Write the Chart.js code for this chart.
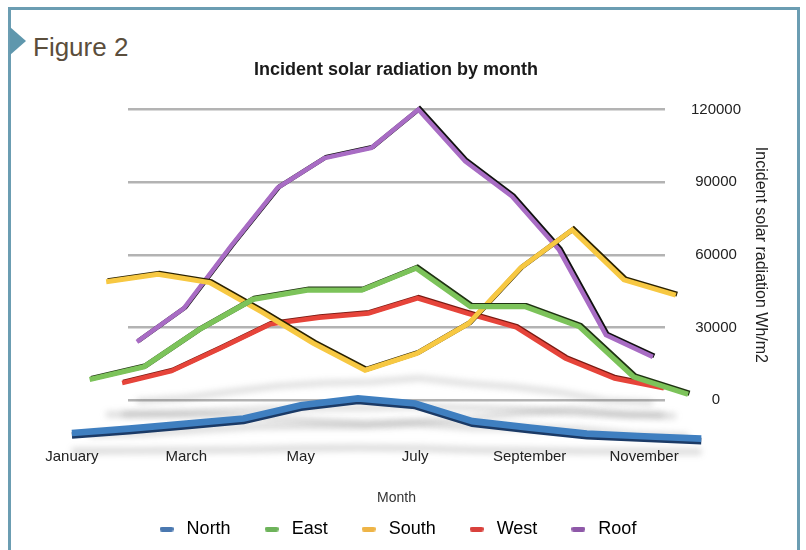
<!DOCTYPE html>
<html>
<head>
<meta charset="utf-8">
<script src="https://cdn.jsdelivr.net/npm/chart.js@4.4.1/dist/chart.umd.min.js"></script>
<style>
  html, body { margin: 0; padding: 0; background: #fff; overflow: hidden; }
  #wrap { position: relative; width: 806px; height: 550px; overflow: hidden; }
  #frame { position: absolute; left: 8px; top: 7px; width: 786px; height: 600px;
           border: 3px solid #6b9db2; border-bottom: none; }
  #marker { position: absolute; left: 10px; top: 27px; width: 0; height: 0;
            border-top: 14px solid transparent; border-bottom: 14px solid transparent;
            border-left: 16px solid #5f97ad; }
  #fig { position: absolute; left: 33px; top: 34px; line-height: 26px;
         font: 26px "Liberation Sans", Arial, sans-serif; color: #5b4e3c; white-space: nowrap; }
  #fig { line-height: 26px; }
  canvas { position: absolute; left: 0; top: 0; }
</style>
</head>
<body>
<div id="wrap">
  <div id="frame"></div>
  <div id="marker"></div>
  <div id="fig">Figure 2</div>
  <canvas id="chart" width="806" height="550"></canvas>
</div>
<script>
// Monthly incident solar radiation (Wh/m2) per surface orientation
const months = ['January', 'February', 'March', 'April', 'May', 'June',
                'July', 'August', 'September', 'October', 'November', 'December'];
const north = [4200, 5700, 7400, 9100, 13600, 15900, 14200, 8200, 6000, 4000, 3100, 2300];
const east  = [19100, 23600, 36700, 47600, 50900, 50900, 58700, 45000, 45000, 37900, 20000, 13800];
const south = [52300, 55100, 52000, 41000, 29300, 19200, 25500, 36700, 57400, 71700, 53000, 47300];
const west  = [10800, 15500, 24500, 33900, 36500, 38200, 44100, 38200, 32700, 20500, 12600, 8800];
const roof  = [24100, 37900, 63500, 87700, 100000, 104200, 120000, 98600, 84100, 62100, 26900, 17900];
const yTicks = [0, 30000, 60000, 90000, 120000];

// Perspective: each series sits on its own depth plane, scaled about a vanishing point
const VANISH = { x: 0.567, y: 0.293 };   // fraction of the plot area
const FRONT_DEPTH = 1.22;

const FONT = '"Liberation Sans", Arial, Helvetica, sans-serif';
Chart.defaults.font.family = FONT;
Chart.defaults.color = '#222';

const toPoints = arr => arr.map((v, i) => ({ x: i, y: v }));

function plane(chart, s) {
  const a = chart.chartArea;
  const vx = a.left + VANISH.x * (a.right - a.left);
  const vy = a.top + VANISH.y * (a.bottom - a.top);
  return { s, vx, vy, px: x => vx + s * (x - vx), py: y => vy + s * (y - vy) };
}

function swatch(color) {
  const c = document.createElement('canvas');
  c.width = 14; c.height = 5;
  const g = c.getContext('2d');
  g.fillStyle = color;
  g.beginPath();
  g.roundRect(0, 0, 14, 5, 2.5);
  g.fill();
  return c;
}

const depthPlugin = {
  id: 'depthPlanes',
  beforeDatasetsDraw(chart) {
    // soft floor shadows under each ribbon
    const ctx = chart.ctx;
    const y0 = chart.scales.y.getPixelForValue(0);
    ctx.save();
    ctx.filter = 'blur(3px)';
    ctx.strokeStyle = 'rgba(90,90,90,0.24)';
    ctx.lineJoin = 'round';
    chart.data.datasets.forEach((ds, i) => {
      const meta = chart.getDatasetMeta(i);
      const t = plane(chart, ds.depth);
      const base = t.py(y0);
      ctx.lineWidth = 5 * ds.depth;
      ctx.beginPath();
      meta.data.forEach((p, j) => {
        const X = t.px(p.x);
        const Y = base + 7 - (base - t.py(p.y)) * 0.1;
        j ? ctx.lineTo(X, Y) : ctx.moveTo(X, Y);
      });
      ctx.stroke();
    });
    ctx.restore();
  },
  beforeDatasetDraw(chart, args) {
    const ds = chart.data.datasets[args.index];
    const t = plane(chart, ds.depth);
    const ctx = chart.ctx;
    ctx.save();
    ctx.translate(t.vx, t.vy);
    ctx.scale(t.s, t.s);
    ctx.translate(-t.vx, -t.vy);
    ctx.shadowColor = ds.edgeColor;
    ctx.shadowOffsetX = ds.edgeOffset[0];
    ctx.shadowOffsetY = ds.edgeOffset[1];
    ctx.shadowBlur = 0;
  },
  afterDatasetDraw(chart) {
    chart.ctx.restore();
  },
  afterDraw(chart) {
    // month labels run along the front edge of the floor
    const ctx = chart.ctx;
    const xs = chart.scales.x, ys = chart.scales.y;
    const t = plane(chart, FRONT_DEPTH);
    const base = t.py(ys.getPixelForValue(0));
    ctx.save();
    ctx.font = '15px ' + FONT;
    ctx.fillStyle = '#222';
    ctx.textAlign = 'center';
    ctx.textBaseline = 'middle';
    months.forEach((m, i) => {
      if (i % 2 === 0) ctx.fillText(m, t.px(xs.getPixelForValue(i)), base + 11);
    });
    ctx.restore();
  }
};

const series = [
  { label: 'North', data: north, color: '#3f7fc0', legend: '#4a78b0', edge: '#1b3a66', off: [0, 2.5], depth: 1.22, width: 5.5 },
  { label: 'East',  data: east,  color: '#7cc35a', legend: '#6db35a', edge: '#1f3312', off: [1.5, -1], depth: 1.16, width: 4.5 },
  { label: 'South', data: south, color: '#f7c842', legend: '#eeb446', edge: '#2b2200', off: [1.5, -1], depth: 1.104, width: 4.5 },
  { label: 'West',  data: west,  color: '#e6443a', legend: '#d9413c', edge: '#7a1a12', off: [1, -1], depth: 1.05, width: 4.5 },
  { label: 'Roof',  data: roof,  color: '#a86cc4', legend: '#8e58a8', edge: '#111111', off: [1.5, -1], depth: 1.0, width: 4.5 }
];

new Chart(document.getElementById('chart'), {
  type: 'line',
  data: {
    datasets: series.map(s => ({
      label: s.label,
      data: toPoints(s.data),
      borderColor: s.color,
      backgroundColor: s.color,
      legendColor: s.legend,
      edgeColor: s.edge,
      edgeOffset: s.off,
      depth: s.depth,
      borderWidth: s.width,
      borderJoinStyle: 'miter',
      borderCapStyle: 'butt',
      pointRadius: 0,
      tension: 0,
      clip: false
    }))
  },
  options: {
    responsive: false,
    animation: false,
    layout: { padding: { left: 10, right: 24, top: 0, bottom: 2 } },
    plugins: {
      tooltip: { enabled: false },
      title: {
        display: true,
        text: 'Incident solar radiation by month',
        font: { size: 18, weight: 'bold' },
        color: '#1a1a1a',
        padding: { top: 59, bottom: 29 }
      },
      legend: {
        position: 'bottom',
        labels: {
          usePointStyle: true,
          pointStyleWidth: 22,
          padding: 30,
          font: { size: 18 },
          color: '#222',
          generateLabels: chart => chart.data.datasets.map((ds, i) => ({
            text: ds.label,
            pointStyle: swatch(ds.legendColor),
            fillStyle: ds.legendColor,
            strokeStyle: ds.legendColor,
            lineWidth: 0,
            hidden: false,
            datasetIndex: i
          }))
        }
      }
    },
    scales: {
      x: {
        type: 'linear',
        min: -0.19,
        max: 11.26,
        grid: { display: false, drawTicks: false },
        border: { display: false },
        ticks: { display: false },
        title: { display: true, text: 'Month', font: { size: 14 }, color: '#333', padding: { top: 90, bottom: -17 } }
      },
      y: {
        position: 'right',
        min: 0,
        max: 120000,
        afterBuildTicks: ax => { ax.ticks = yTicks.map(v => ({ value: v })); },
        afterFit: ax => { ax.width = 117; },
        grid: { color: '#b3b3b3', lineWidth: 2.5, drawTicks: false },
        border: { display: false },
        ticks: { padding: 26, crossAlign: 'center', font: { size: 15 }, color: '#222', callback: v => String(v) },
        title: { display: true, text: 'Incident solar radiation Wh/m2', font: { size: 16 }, color: '#222', padding: { top: 12, bottom: 0 } }
      },
      yLeft: {
        type: 'linear',
        position: 'left',
        grid: { display: false, drawTicks: false },
        border: { display: false },
        ticks: { display: false },
        afterFit: ax => { ax.width = 118; }
      }
    }
  },
  plugins: [depthPlugin]
});
</script>
</body>
</html>
